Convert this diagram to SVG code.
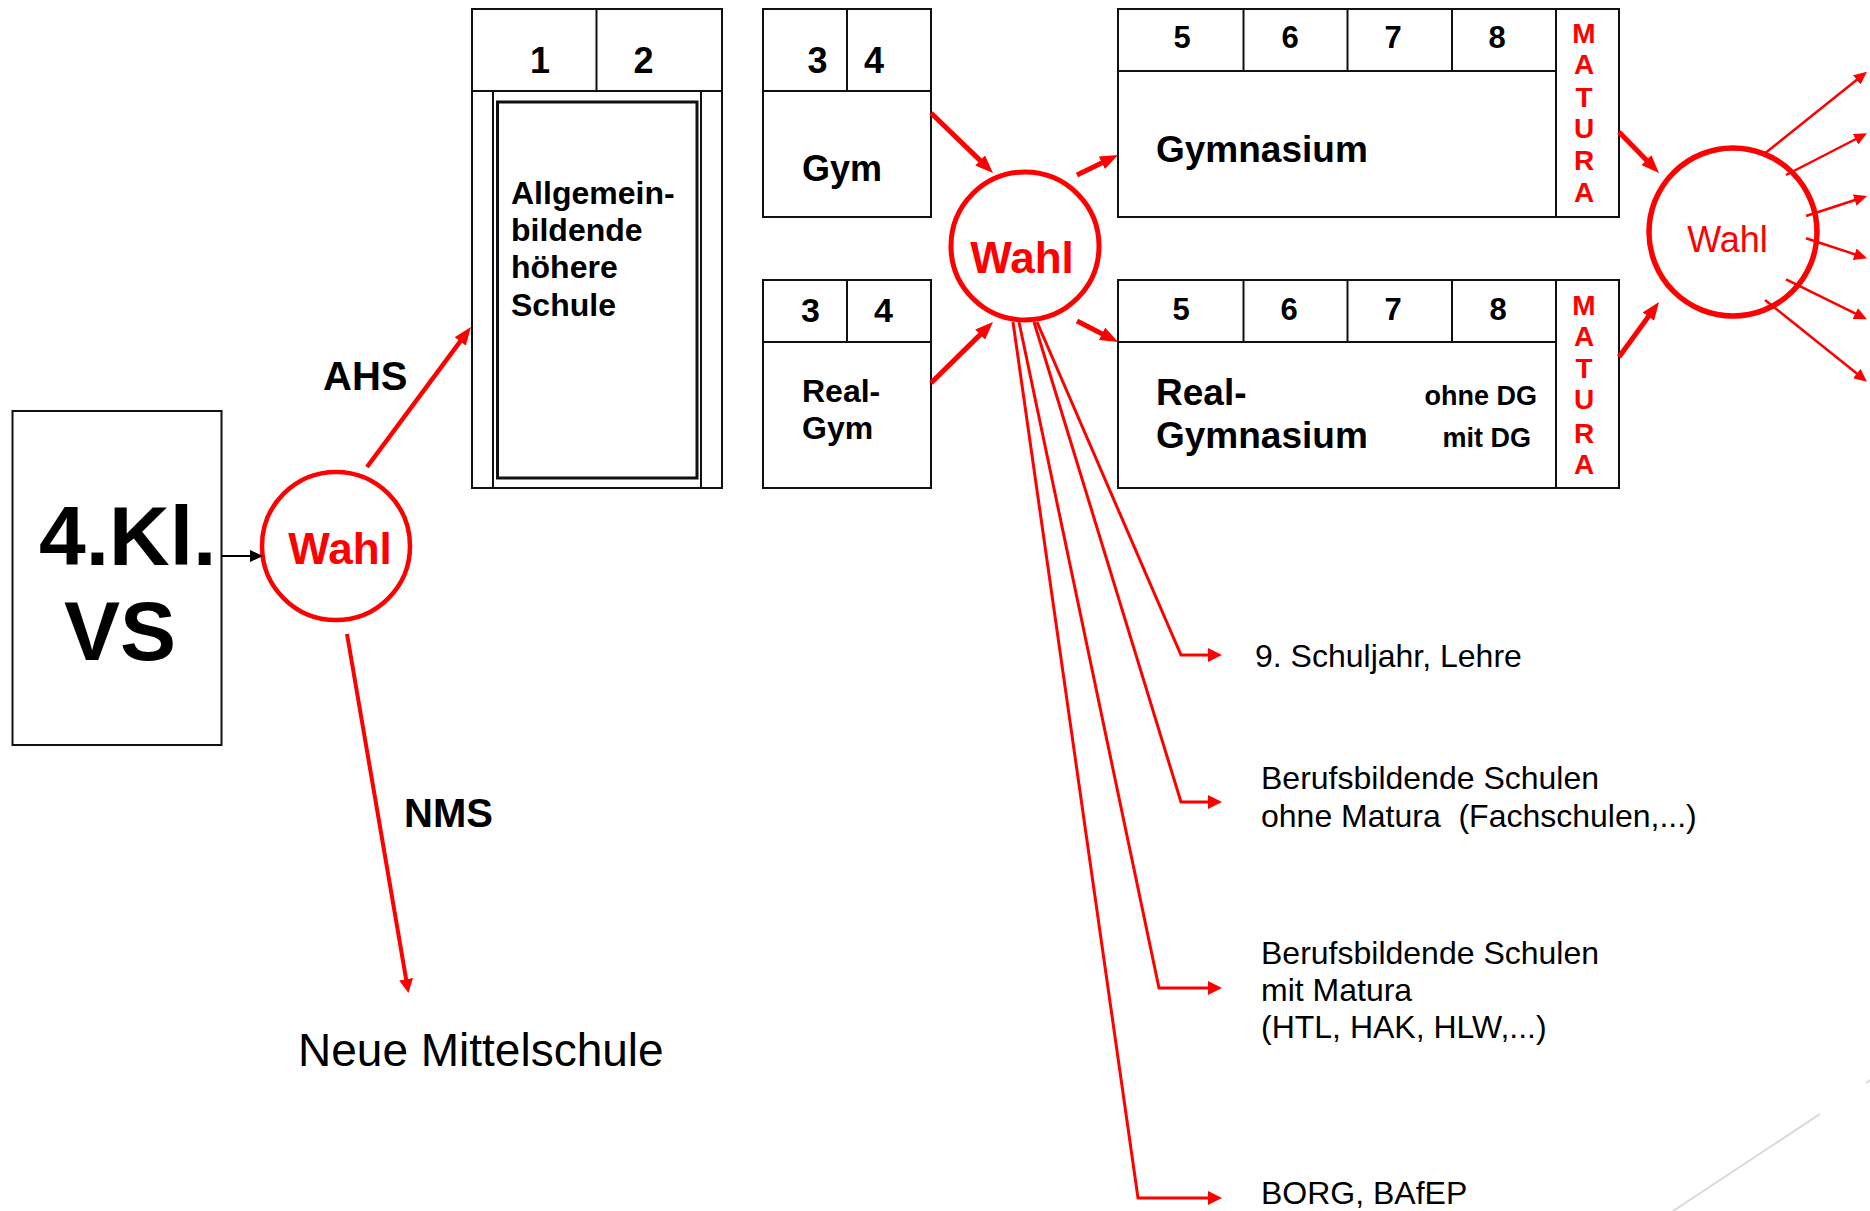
<svg xmlns="http://www.w3.org/2000/svg" width="1870" height="1211" viewBox="0 0 1870 1211">
<defs>
<style>
text{font-family:"Liberation Sans",Arial,sans-serif}
.box{fill:#fff;stroke:#111;stroke-width:2}
.ln{stroke:#111;stroke-width:2;fill:none}
.b{font-weight:bold;fill:#000}
.r{fill:#ff0000}
.mat{font-weight:bold;fill:#ff0000;font-size:28px;text-anchor:middle}
.num{font-weight:bold;fill:#000;text-anchor:middle}
.circ{fill:none;stroke:#ff0000}
.arr{stroke:#ff0000;fill:none}
.lbl{font-size:32px;fill:#000}
</style>
<marker id="ahThick" markerUnits="userSpaceOnUse" markerWidth="18" markerHeight="14" refX="10" refY="7" orient="auto"><path d="M0,0 L18,7 L0,14 z" fill="#ff0000"/></marker>
<marker id="ahMid" markerUnits="userSpaceOnUse" markerWidth="14" markerHeight="14" refX="7" refY="7" orient="auto"><path d="M0,0 L14,7 L0,14 z" fill="#ff0000"/></marker>
<marker id="ahThin" markerUnits="userSpaceOnUse" markerWidth="13" markerHeight="12" refX="6" refY="6" orient="auto"><path d="M0,0 L13,6 L0,12 z" fill="#ff0000"/></marker>
<marker id="ahBlack" markerUnits="userSpaceOnUse" markerWidth="13" markerHeight="12" refX="6" refY="6" orient="auto"><path d="M0,0 L13,6 L0,12 z" fill="#000"/></marker>
</defs>
<rect width="1870" height="1211" fill="#fff"/>

<g id="vs">
<rect class="box" x="12.5" y="411" width="209" height="334"/>
<text class="b" x="39" y="565" font-size="84">4.Kl.</text>
<text class="b" x="64" y="660" font-size="84">VS</text>
</g>

<g id="wahl1">
<circle class="circ" cx="336" cy="546" r="74" stroke-width="4.5"/>
<text class="r" x="340" y="564" font-size="44" font-weight="bold" text-anchor="middle">Wahl</text>
</g>

<g id="ahs-block">
<rect class="box" x="472" y="9" width="250" height="479"/>
<line class="ln" x1="472" y1="91" x2="722" y2="91"/>
<line class="ln" x1="596.5" y1="9" x2="596.5" y2="91"/>
<line class="ln" x1="493" y1="91" x2="493" y2="488"/>
<line class="ln" x1="701" y1="91" x2="701" y2="488"/>
<rect x="497.5" y="102" width="199.5" height="376" fill="none" stroke="#111" stroke-width="3"/>
<text class="num" x="540" y="73" font-size="36">1</text>
<text class="num" x="643.5" y="73" font-size="36">2</text>
<text class="b" x="511" y="204" font-size="32">Allgemein-</text>
<text class="b" x="511" y="241" font-size="32">bildende</text>
<text class="b" x="511" y="278" font-size="32">höhere</text>
<text class="b" x="511" y="316" font-size="32">Schule</text>
</g>

<g id="gym-box">
<rect class="box" x="763" y="9" width="168" height="208"/>
<line class="ln" x1="763" y1="91" x2="931" y2="91"/>
<line class="ln" x1="847" y1="9" x2="847" y2="91"/>
<text class="num" x="817.5" y="73" font-size="36">3</text>
<text class="num" x="874" y="73" font-size="36">4</text>
<text class="b" x="802" y="181" font-size="36">Gym</text>
</g>

<g id="realgym-box">
<rect class="box" x="763" y="280" width="168" height="208"/>
<line class="ln" x1="763" y1="342" x2="931" y2="342"/>
<line class="ln" x1="847" y1="280" x2="847" y2="342"/>
<text class="num" x="810.5" y="322" font-size="34">3</text>
<text class="num" x="883.5" y="322" font-size="34">4</text>
<text class="b" x="802" y="402" font-size="32">Real-</text>
<text class="b" x="802" y="439" font-size="32">Gym</text>
</g>

<g id="wahl2">
<circle class="circ" cx="1025" cy="246" r="74" stroke-width="5"/>
<text class="r" x="1022" y="273" font-size="44" font-weight="bold" text-anchor="middle">Wahl</text>
</g>

<g id="gymnasium">
<rect class="box" x="1118" y="9" width="501" height="208"/>
<line class="ln" x1="1118" y1="71" x2="1556" y2="71"/>
<line class="ln" x1="1243.5" y1="9" x2="1243.5" y2="71"/>
<line class="ln" x1="1347.5" y1="9" x2="1347.5" y2="71"/>
<line class="ln" x1="1452" y1="9" x2="1452" y2="71"/>
<line class="ln" x1="1556" y1="9" x2="1556" y2="217"/>
<text class="num" x="1182" y="48" font-size="31">5</text>
<text class="num" x="1290" y="48" font-size="31">6</text>
<text class="num" x="1393" y="48" font-size="31">7</text>
<text class="num" x="1497" y="48" font-size="31">8</text>
<text class="b" x="1156" y="162" font-size="37">Gymnasium</text>
<text class="mat" x="1584" y="43">M</text>
<text class="mat" x="1584" y="74">A</text>
<text class="mat" x="1584" y="107">T</text>
<text class="mat" x="1584" y="138">U</text>
<text class="mat" x="1584" y="170">R</text>
<text class="mat" x="1584" y="202">A</text>
</g>

<g id="realgymnasium">
<rect class="box" x="1118" y="280" width="501" height="208"/>
<line class="ln" x1="1118" y1="342" x2="1556" y2="342"/>
<line class="ln" x1="1243.5" y1="280" x2="1243.5" y2="342"/>
<line class="ln" x1="1347.5" y1="280" x2="1347.5" y2="342"/>
<line class="ln" x1="1452" y1="280" x2="1452" y2="342"/>
<line class="ln" x1="1556" y1="280" x2="1556" y2="488"/>
<text class="num" x="1181" y="320" font-size="31">5</text>
<text class="num" x="1289" y="320" font-size="31">6</text>
<text class="num" x="1393" y="320" font-size="31">7</text>
<text class="num" x="1498" y="320" font-size="31">8</text>
<text class="b" x="1156" y="405" font-size="37">Real-</text>
<text class="b" x="1156" y="448" font-size="37">Gymnasium</text>
<text class="b" x="1537" y="405" font-size="27" text-anchor="end">ohne DG</text>
<text class="b" x="1531" y="447" font-size="27" text-anchor="end">mit DG</text>
<text class="mat" x="1584" y="315">M</text>
<text class="mat" x="1584" y="346">A</text>
<text class="mat" x="1584" y="378">T</text>
<text class="mat" x="1584" y="409">U</text>
<text class="mat" x="1584" y="443">R</text>
<text class="mat" x="1584" y="474">A</text>
</g>

<g id="wahl3">
<circle class="circ" cx="1733" cy="232" r="84" stroke-width="5.5"/>
<text class="r" x="1727.5" y="252" font-size="36" text-anchor="middle">Wahl</text>
</g>

<g id="nms-label"><text class="b" x="404" y="827" font-size="40">NMS</text></g>
<g id="ahs-label"><text class="b" x="323" y="390" font-size="40">AHS</text></g>
<g id="nms"><text x="298" y="1066" font-size="46" fill="#000">Neue Mittelschule</text></g>

<g id="out1"><text class="lbl" x="1255" y="667">9. Schuljahr, Lehre</text></g>
<g id="out2">
<text class="lbl" x="1261" y="789">Berufsbildende Schulen</text>
<text class="lbl" x="1261" y="827" style="white-space:pre">ohne Matura  (Fachschulen,...)</text>
</g>
<g id="out3">
<text class="lbl" x="1261" y="964">Berufsbildende Schulen</text>
<text class="lbl" x="1261" y="1001">mit Matura</text>
<text class="lbl" x="1261" y="1038">(HTL, HAK, HLW,...)</text>
</g>
<g id="out4"><text class="lbl" x="1261" y="1204">BORG, BAfEP</text></g>

<g id="connectors">
<line x1="222" y1="556" x2="256" y2="556" stroke="#000" stroke-width="2" marker-end="url(#ahBlack)"/>
<line class="arr" x1="367" y1="467" x2="466.2" y2="333.4" stroke-width="4.5" marker-end="url(#ahThick)"/>
<line class="arr" x1="347" y1="634" x2="407.3" y2="986.1" stroke-width="4" marker-end="url(#ahMid)"/>
<line class="arr" x1="931" y1="113" x2="987.3" y2="167.4" stroke-width="5" marker-end="url(#ahThick)"/>
<line class="arr" x1="931" y1="383" x2="987.3" y2="327.6" stroke-width="5" marker-end="url(#ahThick)"/>
<line class="arr" x1="1077" y1="175" x2="1110.8" y2="158.5" stroke-width="5" marker-end="url(#ahThick)"/>
<line class="arr" x1="1077" y1="321" x2="1110.9" y2="338.4" stroke-width="5" marker-end="url(#ahThick)"/>
<line class="arr" x1="1619" y1="132" x2="1653.4" y2="167.3" stroke-width="5" marker-end="url(#ahThick)"/>
<line class="arr" x1="1619" y1="357" x2="1654.3" y2="308.5" stroke-width="5" marker-end="url(#ahThick)"/>
<line class="arr" x1="1765" y1="153.3" x2="1861.5" y2="76.1" stroke-width="2.5" marker-end="url(#ahThin)"/>
<line class="arr" x1="1786" y1="175" x2="1860.8" y2="136.5" stroke-width="2.5" marker-end="url(#ahThin)"/>
<line class="arr" x1="1806" y1="216" x2="1860.4" y2="198.2" stroke-width="2.5" marker-end="url(#ahThin)"/>
<line class="arr" x1="1806" y1="238.3" x2="1860.4" y2="256.1" stroke-width="2.5" marker-end="url(#ahThin)"/>
<line class="arr" x1="1786" y1="279.3" x2="1860.7" y2="316.2" stroke-width="2.5" marker-end="url(#ahThin)"/>
<line class="arr" x1="1765" y1="300" x2="1861.5" y2="377.3" stroke-width="2.5" marker-end="url(#ahThin)"/>
<polyline class="arr" points="1037,322 1181,655 1215,655" stroke-width="3" marker-end="url(#ahMid)"/>
<polyline class="arr" points="1034,322 1181,802 1215,802" stroke-width="3" marker-end="url(#ahMid)"/>
<polyline class="arr" points="1019,322 1159,988 1215,988" stroke-width="3" marker-end="url(#ahMid)"/>
<polyline class="arr" points="1013,322 1138,1198 1215,1198" stroke-width="3" marker-end="url(#ahMid)"/>
</g>

<g id="decor">
<line x1="1820" y1="1114" x2="1673" y2="1211" stroke="#d9d9d9" stroke-width="2"/>
<line x1="1866" y1="1083" x2="1870" y2="1080" stroke="#d9d9d9" stroke-width="2"/>
</g>
</svg>
